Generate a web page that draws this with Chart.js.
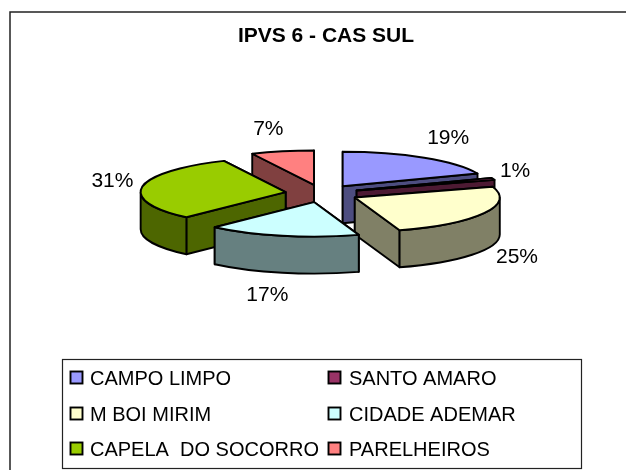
<!DOCTYPE html>
<html><head><meta charset="utf-8">
<style>html,body{margin:0;padding:0;background:#fff;overflow:hidden}#w{position:absolute;left:0;top:0;width:626px;height:470px}</style>
<script src="https://cdn.jsdelivr.net/npm/chart.js@4"></script>
</head><body><div id="w"><canvas id="c" width="626" height="470"></canvas></div>
<script>
const titleText = 'IPVS 6 - CAS SUL';
const categories = ['CAMPO LIMPO','SANTO AMARO','M BOI MIRIM','CIDADE ADEMAR','CAPELA  DO SOCORRO','PARELHEIROS'];
const values = [19,1,25,17,31,7];
const topColors = ['#9999FF','#993366','#FFFFCC','#CCFFFF','#99CC00','#FF8080'];
const sideColors = ['#4D4D80','#4D1A33','#808066','#668080','#4D6600','#804040'];
const paintOrder = [5,0,1,4,2,3];

const SQUASH = 0.238, DEPTH = 37, LW = 1.9, EXPLODE = 36.8, SHIFT = -4;
const labelNudge = [[24,-20],[22,-8],[33,44],[-15,59],[-30,-6],[-14,-22]];

const pie3d = {
  id:'pie3d',
  beforeDatasetsDraw(chart){
    const ctx = chart.ctx, arcs = chart.getDatasetMeta(0).data;
    paintOrder.forEach(i=>{
      const el = arcs[i];
      const p = el.getProps(['x','y','startAngle','endAngle','outerRadius'],true);
      const mid=(p.startAngle+p.endAngle)/2;
      const a = p.outerRadius, b = a*SQUASH;
      const dx = Math.cos(mid)*EXPLODE+SHIFT, dy = Math.sin(mid)*EXPLODE*SQUASH;
      const ax = p.x + dx, ay = p.y + dy;
      const rim = t => [ax+a*Math.cos(t), ay+b*Math.sin(t)];
      ctx.save();
      ctx.lineWidth = LW; ctx.strokeStyle = '#000'; ctx.lineJoin='round';
      ctx.fillStyle = sideColors[i];
      const walls = [p.startAngle,p.endAngle].sort((u,v)=>rim(u)[1]-rim(v)[1]);
      walls.forEach(t=>{
        const r = rim(t);
        ctx.beginPath();
        ctx.moveTo(ax,ay);ctx.lineTo(r[0],r[1]);ctx.lineTo(r[0],r[1]+DEPTH);ctx.lineTo(ax,ay+DEPTH);ctx.closePath();
        ctx.fill();ctx.stroke();
      });
      const t0=Math.max(p.startAngle,0), t1=Math.min(p.endAngle,Math.PI);
      if(t1>t0){
        ctx.beginPath();
        ctx.ellipse(ax,ay,a,b,0,t0,t1,false);
        ctx.ellipse(ax,ay+DEPTH,a,b,0,t1,t0,true);
        ctx.closePath();ctx.fill();ctx.stroke();
      }
      // top face: the library's own arc, moved out and squashed
      ctx.save();
      ctx.translate(dx,p.y+dy);ctx.scale(1,SQUASH);ctx.translate(0,-p.y);
      el.draw(ctx);
      ctx.restore();
      ctx.beginPath();
      ctx.moveTo(ax,ay);
      ctx.ellipse(ax,ay,a,b,0,p.startAngle,p.endAngle,false);
      ctx.closePath();ctx.stroke();
      ctx.restore();
    });
    return false;
  },
  afterDraw(chart){
    const ctx = chart.ctx, arcs = chart.getDatasetMeta(0).data;
    ctx.save();
    // outer frame: only top and left fall inside the picture
    ctx.strokeStyle='#222';ctx.lineWidth=1.5;
    ctx.beginPath();ctx.moveTo(10,480);ctx.lineTo(10,12);ctx.lineTo(640,12);ctx.stroke();
    // percent labels
    const total = values.reduce((s,v)=>s+v,0);
    ctx.fillStyle='#000';ctx.font='21px "Liberation Sans"';ctx.textAlign='center';ctx.textBaseline='middle';
    arcs.forEach((el,i)=>{
      const p = el.getProps(['x','y','startAngle','endAngle','outerRadius'],true);
      const mid=(p.startAngle+p.endAngle)/2;
      const x=p.x+SHIFT+Math.cos(mid)*(EXPLODE+p.outerRadius)+labelNudge[i][0];
      const y=p.y+Math.sin(mid)*(EXPLODE+p.outerRadius)*SQUASH+labelNudge[i][1];
      ctx.fillText(Math.round(values[i]/total*100)+'%',x,y);
    });
    // legend
    ctx.fillStyle='#fff';ctx.strokeStyle='#222';ctx.lineWidth=1.2;
    ctx.fillRect(62.5,359.5,519,109);ctx.strokeRect(62.5,359.5,519,109);
    ctx.textAlign='left';ctx.textBaseline='alphabetic';ctx.font='20px "Liberation Sans"';
    categories.forEach((name,i)=>{
      const col=i%2,row=Math.floor(i/2);
      const sx=col?328.5:70.5, sy=[371.5,407.5,442.5][row];
      ctx.fillStyle=topColors[i];ctx.lineWidth=1.9;ctx.strokeStyle='#000';
      ctx.fillRect(sx,sy,12,12);ctx.strokeRect(sx,sy,12,12);
      ctx.fillStyle='#000';
      ctx.fillText(name,col?349:90,sy+13);
    });
    ctx.restore();
  }
};

new Chart(document.getElementById('c'),{
  type:'pie',
  data:{labels:categories,datasets:[{data:values,backgroundColor:topColors,borderWidth:0}]},
  plugins:[pie3d],
  options:{
    responsive:false,animation:false,radius:145,
    layout:{padding:{left:26,right:0,top:23.4,bottom:131.6}},
    plugins:{
      legend:{display:false},tooltip:{enabled:false},
      title:{display:true,text:titleText,color:'#000',padding:0,font:{family:'"Liberation Sans"',size:21,weight:'bold',lineHeight:1.2}}
    }
  }
});
</script>
</body></html>
